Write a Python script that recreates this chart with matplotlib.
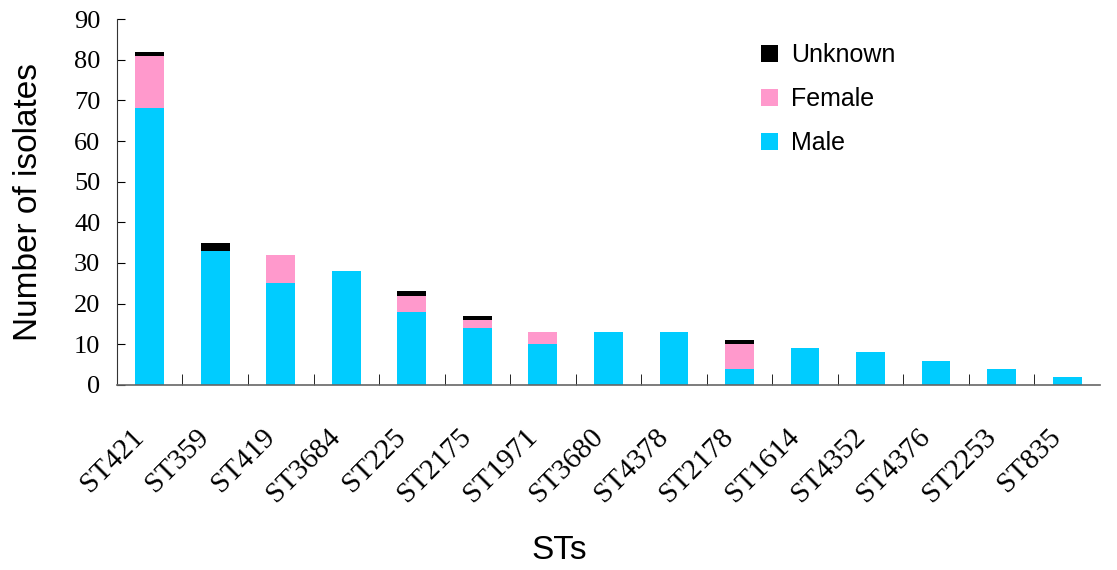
import numpy as np
import matplotlib.pyplot as plt
from matplotlib.transforms import ScaledTranslation

# data
sts = ["ST421", "ST359", "ST419", "ST3684", "ST225", "ST2175", "ST1971", "ST3680",
       "ST4378", "ST2178", "ST1614", "ST4352", "ST4376", "ST2253", "ST835"]
male = [68, 33, 25, 28, 18, 14, 10, 13, 13, 4, 9, 8, 6, 4, 2]
female = [13, 0, 7, 0, 4, 2, 3, 0, 0, 6, 0, 0, 0, 0, 0]
unknown = [1, 2, 0, 0, 1, 1, 0, 0, 0, 1, 0, 0, 0, 0, 0]

male_col = "#00CCFF"
female_col = "#FF99CC"
unknown_col = "#000000"

fig = plt.figure(figsize=(11.17, 5.70), dpi=100)
ax = fig.add_axes([0.1047, 0.3246, 0.880, 0.642])

x = np.arange(len(sts))
w = 0.44
male = np.array(male)
female = np.array(female)
unknown = np.array(unknown)

b_male = ax.bar(x, male, w, color=male_col, label="Male")
b_fem = ax.bar(x, female, w, bottom=male, color=female_col, label="Female")
b_unk = ax.bar(x, unknown, w, bottom=male + female, color=unknown_col, label="Unknown")

ax.set_xlim(-0.5, len(sts) - 0.5)
ax.set_ylim(0, 90)
ax.set_yticks(range(0, 91, 10))

for s in ["top", "right"]:
    ax.spines[s].set_visible(False)
ax.spines["left"].set_color("#333333")
ax.spines["bottom"].set_color("#666666")
ax.spines["bottom"].set_linewidth(1.2)

serif = "Liberation Serif"
sans = "Liberation Sans"

ax.tick_params(axis="y", direction="in", length=6, labelsize=19, pad=12)
for lab in ax.get_yticklabels():
    lab.set_family(serif)

# category labels, boundary ticks as minor
ax.set_xticks(x)
ax.set_xticklabels(sts, rotation=45, ha="right", rotation_mode="anchor",
                   family=serif, fontsize=21)
ax.tick_params(axis="x", which="major", length=0, pad=28)
ax.set_xticks(x[:-1] + 0.5, minor=True)
ax.tick_params(axis="x", which="minor", direction="in", length=8)
offset = ScaledTranslation(-0.19, 0, fig.dpi_scale_trans)
for lab in ax.get_xticklabels():
    lab.set_transform(lab.get_transform() + offset)

ax.set_ylabel("Number of isolates", family=sans, fontsize=24)
ax.yaxis.set_label_coords(-0.074, 0.5)
ax.set_xlabel("STs", family=sans, fontsize=24)
ax.xaxis.set_label_coords(0.45, -0.41)

leg = ax.legend(handles=[b_unk, b_fem, b_male], loc="upper left",
                bbox_to_anchor=(0.632, 0.995), frameon=False,
                prop={"family": sans, "size": 18}, handlelength=0.7,
                handleheight=0.7, handletextpad=0.5, labelspacing=0.8)

fig.savefig("out.png", dpi=100)
